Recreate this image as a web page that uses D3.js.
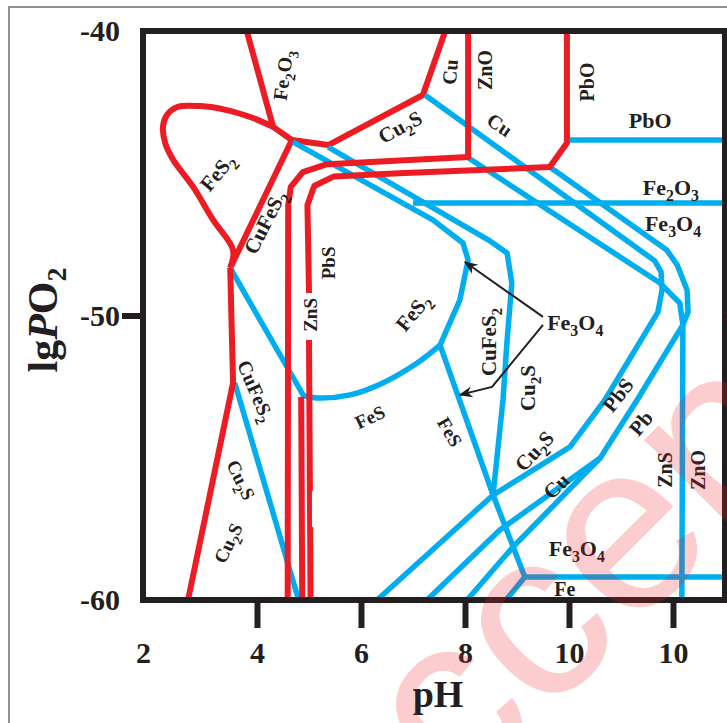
<!DOCTYPE html>
<html><head><meta charset="utf-8">
<script src="https://cdn.jsdelivr.net/npm/d3@7"></script>
<style>body{margin:0;background:#fff}svg{display:block}</style>
</head><body>
<svg id="chart" width="727" height="723"></svg>
<script>
// ---------- data (pH, lgPO2) ----------
const xTickValues = [2, 4, 6, 8, 10, 12];
const xTickLabels = ["2", "4", "6", "8", "10", "10"];
const yTickValues = [-60, -50, -40];
const yTickLabels = ["-60", "-50", "-40"];

// red boundaries
const redFe2O3 = [[3.82,-40],[4.31,-43.37],[4.67,-43.83]];
const redFeS2Loop = [[4.31,-43.37],[3.93,-43.06],[3.47,-42.78],[3.00,-42.64],[2.60,-42.67],[2.42,-42.95],[2.35,-43.37],[2.39,-43.94],[2.53,-44.53],[2.88,-45.48],[3.23,-46.64],[3.58,-47.70],[3.53,-48.33]];
const redCuFeS2 = [[4.67,-43.83],[3.53,-48.33]];
const redLeft = [[3.53,-48.33],[3.58,-52.37],[2.79,-60]];
const redCu = [[4.67,-43.83],[5.37,-44.01],[7.19,-42.25],[7.62,-40]];
const redZnO = [[8.06,-40],[8.06,-44.43],[5.35,-44.68],[4.88,-44.96],[4.65,-45.48],[4.60,-46.12],[4.59,-60]];
const redPbOTop = [[9.96,-40],[9.96,-43.94],[9.63,-44.78],[6.73,-45.0],[5.48,-45.11],[5.10,-45.45],[4.97,-46.12],[5.0,-49.21]];
const redPbOBottom = [[5.0,-50.86],[5.03,-60]];
const redMid = [[4.85,-52.86],[4.87,-60]];

// blue boundaries
const blueB1 = [[4.69,-43.90],[7.38,-46.64],[7.96,-47.45],[8.06,-48.05],[7.90,-49.46],[7.52,-51.04]];
const blueB2 = [[5.37,-44.08],[8.48,-47.38],[8.81,-47.80],[8.90,-48.86],[8.81,-50.86],[8.73,-52.97],[8.54,-56.31]];
const blueFeS = [[7.52,-51.04],[8.54,-56.31],[9.15,-59.19]];
const blueFe = [[9.15,-59.19],[12.94,-59.19]];
const blueFeLow = [[9.15,-59.19],[8.79,-60]];
const blueLeftA = [[3.53,-48.33],[4.92,-52.90]];
const blueFeS2Bottom = [[4.92,-52.83],[5.15,-52.90],[5.79,-52.79],[6.42,-52.37],[7.08,-51.67],[7.52,-51.04]];
const blueLeftB = [[3.61,-52.37],[4.79,-59.93]];
const bluePbO = [[10.02,-43.83],[12.96,-43.83]];
const blueFe2O3 = [[7.00,-46.05],[12.96,-46.05]];
const blueCu = [[7.23,-42.25],[11.65,-48.08],[11.77,-48.47],[11.79,-49.10],[11.71,-49.88],[10.69,-52.97],[10.02,-54.62],[8.54,-56.31],[6.31,-60]];
const blueZn = [[8.04,-44.43],[11.75,-48.86],[12.13,-49.56],[12.19,-50.33],[12.17,-60]];
const bluePb = [[9.63,-44.78],[11.88,-47.70],[12.08,-48.22],[12.27,-49.10],[12.29,-49.88],[12.19,-50.33],[11.31,-52.97],[10.60,-55.01],[8.92,-58.14],[8.04,-60]];
const blueD2 = [[7.27,-60],[8.67,-57.54],[10.60,-55.01]];

// labels: text ("_" marks subscript char), pH, lgPO2, rotation, size
const labels = [
  ["Fe_2O_3", 4.50, -41.55, -82, 20],
  ["FeS_2", 3.30, -44.96, -50, 21],
  ["CuFeS_2", 4.15, -46.71, -63, 21],
  ["Cu_2S", 6.75, -43.37, -28, 21],
  ["Cu", 7.71, -41.44, -85, 20],
  ["ZnO", 8.38, -41.37, -90, 20],
  ["Cu", 8.67, -43.30, 35, 20],
  ["PbO", 10.35, -41.79, -90, 20],
  ["PbO", 11.56, -43.13, 0, 22],
  ["Fe_2O_3", 11.96, -45.48, 0, 22],
  ["Fe_3O_4", 12.0, -46.75, 0, 22],
  ["PbS", 5.37, -48.15, -90, 19],
  ["ZnS", 5.02, -49.98, -90, 19],
  ["FeS_2", 7.0, -49.88, -50, 21],
  ["CuFeS_2", 8.46, -50.93, -90, 21],
  ["Cu_2S", 9.21, -52.55, -90, 21],
  ["Fe_3O_4", 10.12, -50.23, 0, 22],
  ["FeS", 6.17, -53.57, -25, 19],
  ["FeS", 7.71, -54.09, 60, 19],
  ["CuFeS_2", 3.98, -52.65, 67, 20],
  ["Cu_2S", 3.72, -55.78, 64, 19],
  ["Cu_2S", 3.49, -58.0, -64, 19],
  ["Cu_2S", 9.33, -54.76, -47, 21],
  ["Cu", 9.75, -55.99, -45, 21],
  ["PbS", 10.94, -52.79, -52, 21],
  ["Pb", 11.38, -53.78, -50, 21],
  ["ZnS", 11.85, -55.43, -90, 20],
  ["ZnO", 12.48, -55.43, -90, 20],
  ["Fe_3O_4", 10.15, -58.17, 0, 22],
  ["Fe", 9.92, -59.61, 0, 20]
];
const boxedLabel = ["FeS", 5.23, -56.80, -90, 19];
const arrows = [
  [[9.5,-50.05],[8.0,-48.12]],
  [[9.5,-50.33],[8.52,-52.51],[7.90,-52.79]]
];

// ---------- drawing ----------
const RED = "#ed1c24", BLUE = "#00aeef", INK = "#231f20";
const svg = d3.select("#chart");
const x = d3.scaleLinear().domain([2, 4, 12]).range([143, 257, 673]);
const y = d3.scaleLinear().domain([-60, -40]).range([600, 31]);
const xMax = 13;

// outer thin border
svg.append("rect").attr("x", 9).attr("y", 7).attr("width", 740).attr("height", 740)
  .attr("fill", "none").attr("stroke", "#6d6e71").attr("stroke-width", 1.5);

const lineLin = d3.line().x(d => x(d[0])).y(d => y(d[1]));
const lineCurve = d3.line().x(d => x(d[0])).y(d => y(d[1])).curve(d3.curveCatmullRom.alpha(0.5));

const g = svg.append("g");
function draw(data, color, curved, w) {
  g.append("path").attr("d", (curved ? lineCurve : lineLin)(data))
    .attr("fill", "none").attr("stroke", color).attr("stroke-width", w || 6)
    .attr("stroke-linejoin", "round").attr("stroke-linecap", "butt");
}
// red (upper parts)
draw(redFe2O3, RED);
draw(redFeS2Loop, RED, true);
draw(redCuFeS2, RED);
draw(redCu, RED);
// blue
[blueB1, blueB2, blueFeS, blueFe, blueFeLow, blueLeftA, blueLeftB,
 bluePbO, blueFe2O3, blueCu, blueZn, bluePb, blueD2].forEach(d => draw(d, BLUE, false, 5.5));
draw(blueFeS2Bottom, BLUE, true, 5.5);
// red on top
draw(redLeft, RED);
draw(redZnO, RED);
draw(redPbOTop, RED);
draw(redPbOBottom, RED);
draw(redMid, RED);

// frame
svg.append("rect").attr("x", x(2)).attr("y", y(-40)).attr("width", x(xMax) - x(2)).attr("height", y(-60) - y(-40))
  .attr("fill", "none").attr("stroke", INK).attr("stroke-width", 6);

// axes
const serif = "'Liberation Serif','Times New Roman',serif";
const xAxis = svg.append("g").attr("transform", `translate(0,${y(-60)})`)
  .call(d3.axisBottom(x).tickValues(xTickValues).tickFormat((d, i) => xTickLabels[i]).tickSize(28).tickPadding(0));
xAxis.select(".domain").remove();
xAxis.selectAll(".tick line").attr("stroke", INK).attr("stroke-width", 6)
  .attr("display", d => d === 2 ? "none" : null);
xAxis.selectAll(".tick text").attr("y", 63).attr("dy", null)
  .attr("font-family", serif).attr("font-weight", "bold").attr("font-size", 30).attr("fill", INK);

const yAxis = svg.append("g").attr("transform", `translate(${x(2)},0)`)
  .call(d3.axisLeft(y).tickValues(yTickValues).tickFormat((d, i) => yTickLabels[i]).tickSize(21).tickPadding(0));
yAxis.select(".domain").remove();
yAxis.selectAll(".tick line").attr("stroke", INK).attr("stroke-width", 6)
  .attr("display", d => d === -50 ? null : "none");
yAxis.selectAll(".tick text").attr("x", -23).attr("dy", "0.33em")
  .attr("font-family", serif).attr("font-weight", "bold").attr("font-size", 30).attr("fill", INK);

// axis titles
svg.append("text").attr("x", 438).attr("y", 707).attr("text-anchor", "middle")
  .attr("font-family", serif).attr("font-weight", "bold").attr("font-size", 38).attr("fill", INK).text("pH");
const yt = svg.append("text").attr("transform", "translate(57,320) rotate(-90)").attr("text-anchor", "middle")
  .attr("font-family", serif).attr("font-weight", "bold").attr("font-size", 42).attr("fill", INK);
yt.append("tspan").text("lg");
yt.append("tspan").attr("font-style", "italic").text("P");
yt.append("tspan").text("O");
yt.append("tspan").attr("font-size", 28).attr("dy", 9).text("2");

// labels
function addLabel(parent, L) {
  const [txt, px, py, rot, size] = L;
  const t = parent.append("text")
    .attr("transform", `translate(${x(px)},${y(py)}) rotate(${rot})`)
    .attr("text-anchor", "middle").attr("dy", "0.35em")
    .attr("font-family", serif).attr("font-weight", "bold").attr("font-size", size).attr("fill", INK);
  let sub = false, shift = 0;
  for (let i = 0; i < txt.length; i++) {
    if (txt[i] === "_") { sub = true; continue; }
    const s = t.append("tspan").text(txt[i]);
    const want = sub ? size * 0.28 : 0;
    if (want !== shift) { s.attr("dy", want - shift); shift = want; }
    if (sub) s.attr("font-size", size * 0.72);
    sub = false;
  }
  return t;
}
const lg = svg.append("g");
labels.forEach(L => addLabel(lg, L));
// boxed label (white background)
{
  const [txt, px, py] = boxedLabel;
  svg.append("rect").attr("x", x(px) - 9).attr("y", y(py) - 18).attr("width", 18).attr("height", 36).attr("fill", "#fff");
  addLabel(lg, boxedLabel);
}

// arrows
const defs = svg.append("defs");
defs.append("marker").attr("id", "ah").attr("viewBox", "0 0 10 10").attr("refX", 9).attr("refY", 5)
  .attr("markerWidth", 7).attr("markerHeight", 7).attr("orient", "auto-start-reverse")
  .append("path").attr("d", "M0,1 L10,5 L0,9 L3,5 Z").attr("fill", INK);
arrows.forEach(a => {
  svg.append("path").attr("d", lineLin(a)).attr("fill", "none").attr("stroke", INK)
    .attr("stroke-width", 2).attr("marker-end", "url(#ah)");
});

// watermark
svg.append("text").attr("transform", "translate(655,520) rotate(-45)").attr("text-anchor", "middle")
  .attr("dy", "0.26em").attr("font-family", "'Liberation Sans',Arial,sans-serif").attr("font-size", 240)
  .attr("fill", RED).attr("fill-opacity", 0.22).text("Accepted");
</script>
</body></html>
